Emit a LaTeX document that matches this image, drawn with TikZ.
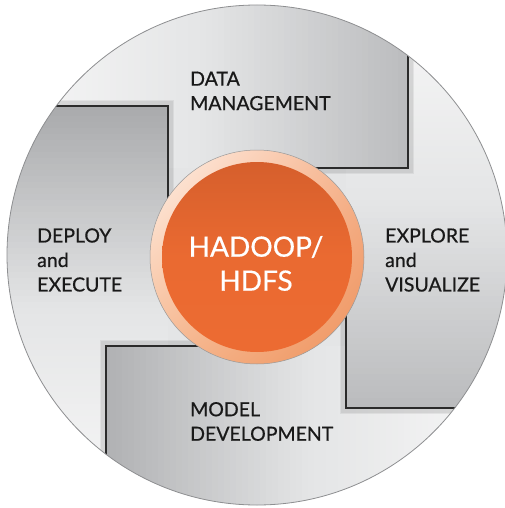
\documentclass[tikz,border=0pt]{standalone}
\usepackage{fontspec}
\setmainfont{Lato}[FakeBold=0.6]
\usetikzlibrary{shadings}
\definecolor{rim}{HTML}{8E8F91}
\definecolor{flapline}{HTML}{2B2B2B}
\definecolor{bg}{HTML}{E4E5E6}
\definecolor{fade}{HTML}{F8F8F8}
\definecolor{tdark}{HTML}{BBBCBE}
\definecolor{ldark}{HTML}{A9AAAC}
\definecolor{bdark}{HTML}{B0B1B3}
\definecolor{rdark}{HTML}{BABBBD}
\definecolor{hadooptop}{HTML}{D65F2C}
\definecolor{hadoopmid}{HTML}{EA6A31}
\definecolor{hadoopbot}{HTML}{EC6B32}
\definecolor{ringul}{HTML}{FFF1E8}
\definecolor{ringur}{HTML}{F6B48E}
\definecolor{ringll}{HTML}{F6B890}
\definecolor{ringlr}{HTML}{EE925C}
\begin{document}
\begin{tikzpicture}[x=1pt,y=-1pt,
	stage/.style={align=left,anchor=west,inner sep=0pt,text=black!90,font=\fontsize{19.5}{24.5}\selectfont},
	flapedge/.style={draw=flapline,line width=1.2pt},
	haze/.style={draw=black,line width=1.2pt,opacity=0.06},
	hub/.style={circle,inner sep=0pt,minimum size=190pt,top color=hadooptop,bottom color=hadoopbot,middle color=hadoopmid},
	hubname/.style={align=center,inner sep=0pt,text=white,font=\fontsize{28}{34}\selectfont}]
	\useasboundingbox (0,0) rectangle (505,508);
	\coordinate (c) at (257,257);
	\coordinate (o) at (257,255);

	\begin{scope}
		\clip (o) circle (250);
		\fill[bg] (o) circle (250);
		% the four flaps of the wheel, each one the top flap turned round (c)
		\foreach \r/\tone in {0/tdark,90/ldark,180/bdark,270/rdark} {
			\begin{scope}[rotate around={\r:(c)}]
				\clip (-10,-10) rectangle (408,106) (168,106) rectangle (408,168);
				\foreach \x in {-10,-4,...,404} {
					\pgfmathsetmacro{\p}{min(100,abs(\x+3-204)/2.04)}
					\pgfmathtruncatemacro{\far}{\x+3<204 ? 1 : 0}
					\ifnum\far=1 \def\tint{fade}\else \def\tint{\tone}\fi
					\fill[fill=\tint!\p!bg] (\x,-10) rectangle (\x+6.5,168);
				}
			\end{scope}
		}
		\foreach \r in {0,90,180,270} {
			\foreach \k in {1,...,5}
				\draw[haze,rotate around={\r:(c)}] (408+\k,0) -- (408+\k,168+\k) -- (257,168+\k);
			\draw[flapedge,rotate around={\r:(c)}] (408,0) -- (408,168) -- (257,168);
		}
	\end{scope}
	\draw[rim,line width=0.8pt] (o) circle (250);

	\shade[upper left=ringul,upper right=ringur,lower left=ringll,lower right=ringlr] (c) circle (107);
	\draw[black!40,line width=0.5pt] (c) circle (107);
	\node[hub] (hub) at (c) {};
	\node[hubname] (hubtext) at (256,263.5) {HADOOP/\\HDFS};

	\node[stage] (data) at (190,91) {DATA\\MANAGEMENT};
	\node[stage] (deploy) at (37,260) {DEPLOY\\and\\EXECUTE};
	\node[stage] (explore) at (385,260) {EXPLORE\\and\\VISUALIZE};
	\node[stage] (model) at (190,421.5) {MODEL\\DEVELOPMENT};
\end{tikzpicture}
\end{document}
